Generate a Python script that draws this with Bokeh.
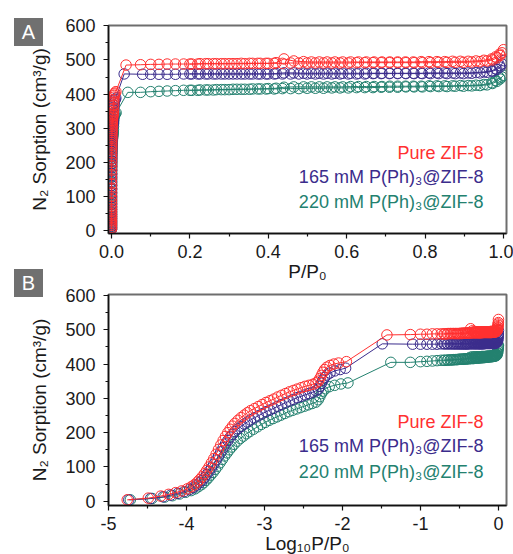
import numpy as np
from bokeh.plotting import figure
from bokeh.models import Label, Range1d, FixedTicker, Div
from bokeh.layouts import column
from bokeh.embed import file_html
from bokeh.resources import INLINE

FONT = "Liberation Sans"
RED = "#ff3030"
PURPLE = "#3b2c8c"
TEAL = "#23816f"

# ---------------- data ----------------
# low-pressure adsorption points, given as log10(P/P0)
red_low_logp = [-4.76, -4.49, -4.33, -4.23, -4.14, -4.06, -3.99, -3.94, -3.90, -3.86,
                -3.83, -3.80, -3.77, -3.74, -3.71, -3.68, -3.65, -3.62, -3.59, -3.56,
                -3.53, -3.50, -3.47, -3.44, -3.41, -3.38, -3.34, -3.30, -3.26, -3.22,
                -3.18, -3.13, -3.08, -3.03, -2.98, -2.93, -2.88, -2.83, -2.78, -2.73,
                -2.68, -2.63, -2.58, -2.53, -2.48, -2.43, -2.38, -2.34, -2.31, -2.29,
                -2.27, -2.25, -2.23, -2.20, -2.16, -2.11, -2.05, -1.95, -1.43, -1.13]
red_low_n = [4, 9, 15, 20, 25, 30, 36, 42, 48, 56,
             63, 71, 80, 90, 100, 112, 124, 137, 151, 164,
             177, 189, 200, 210, 219, 227, 236, 244, 251, 258,
             264, 270, 276, 282, 288, 293, 298, 304, 309, 314,
             319, 323, 327, 331, 335, 338, 341, 345, 350, 358,
             367, 376, 384, 391, 396, 400, 403, 407, 485, 486]

purple_low_logp = [-4.74, -4.46, -4.30, -4.20, -4.11, -4.03, -3.96, -3.91, -3.87, -3.83,
                   -3.80, -3.77, -3.74, -3.71, -3.68, -3.65, -3.62, -3.59, -3.56, -3.53,
                   -3.50, -3.47, -3.44, -3.41, -3.38, -3.34, -3.30, -3.26, -3.22, -3.18,
                   -3.13, -3.08, -3.03, -2.98, -2.93, -2.88, -2.83, -2.78, -2.73, -2.68,
                   -2.63, -2.58, -2.53, -2.48, -2.43, -2.38, -2.34, -2.31, -2.29, -2.27,
                   -2.25, -2.23, -2.20, -2.16, -2.10, -2.03, -1.96, -1.49, -1.10]
purple_low_n = [4, 8, 13, 18, 23, 28, 34, 40, 47, 54,
                61, 69, 78, 87, 97, 108, 120, 132, 144, 156,
                167, 177, 187, 195, 203, 211, 218, 225, 231, 237,
                243, 249, 255, 261, 266, 271, 277, 282, 287, 292,
                297, 302, 306, 310, 314, 318, 322, 327, 335, 344,
                353, 361, 368, 374, 380, 384, 388, 459, 458]

teal_low_logp = [-4.72, -4.44, -4.28, -4.18, -4.09, -4.01, -3.94, -3.89, -3.85, -3.81,
                 -3.78, -3.75, -3.72, -3.69, -3.66, -3.63, -3.60, -3.57, -3.54, -3.51,
                 -3.48, -3.45, -3.42, -3.39, -3.35, -3.31, -3.27, -3.23, -3.19, -3.14,
                 -3.09, -3.04, -2.99, -2.94, -2.89, -2.84, -2.79, -2.74, -2.69, -2.64,
                 -2.59, -2.54, -2.49, -2.44, -2.39, -2.34, -2.31, -2.29, -2.27, -2.25,
                 -2.22, -2.17, -2.10, -2.02, -1.93, -1.38, -1.13]
teal_low_n = [4, 8, 12, 16, 21, 26, 31, 36, 42, 48,
              54, 61, 68, 76, 84, 93, 102, 112, 122, 132,
              141, 150, 158, 166, 175, 183, 190, 197, 203, 210,
              217, 224, 230, 236, 241, 246, 251, 256, 261, 265,
              269, 273, 277, 281, 285, 289, 296, 305, 314, 321,
              328, 334, 338, 342, 345, 405, 405]

# plateau adsorption points, given as P/P0 (shared pressure steps)
plateau_p = [0.100, 0.121, 0.142, 0.163, 0.184, 0.205, 0.226, 0.247, 0.268, 0.289,
             0.310, 0.331, 0.352, 0.373, 0.394, 0.415, 0.436, 0.457, 0.478, 0.499,
             0.520, 0.541, 0.562, 0.583, 0.604, 0.625, 0.646, 0.667, 0.688, 0.709,
             0.730, 0.751, 0.772, 0.793, 0.814, 0.835, 0.856, 0.877, 0.898, 0.919,
             0.940, 0.958, 0.972, 0.983, 0.991, 0.996, 1.000]
red_plateau_n = [487, 487, 488, 488, 488, 488, 489, 489, 489, 489,
                 489, 490, 490, 490, 490, 490, 490, 491, 491, 491,
                 491, 491, 491, 491, 491, 492, 492, 492, 492, 492,
                 492, 492, 492, 492, 492, 493, 493, 493, 493, 494,
                 495, 497, 500, 506, 513, 521, 530]
purple_plateau_n = [458, 458, 458, 458, 459, 459, 459, 459, 459, 459,
                    459, 459, 459, 459, 459, 459, 459, 459, 459, 459,
                    459, 459, 459, 459, 459, 459, 459, 460, 460, 460,
                    460, 460, 460, 460, 460, 460, 460, 460, 460, 461,
                    462, 464, 467, 472, 479, 488, 498]
teal_plateau_n = [407, 408, 409, 410, 411, 411, 412, 412, 413, 413,
                  414, 414, 414, 415, 415, 415, 416, 416, 416, 417,
                  417, 417, 418, 418, 418, 419, 419, 419, 420, 420,
                  420, 421, 421, 421, 422, 422, 422, 423, 423, 424,
                  425, 427, 431, 437, 444, 450, 455]

# desorption branch, P/P0 (shared) and uptake
des_p = [0.990, 0.980, 0.970, 0.950, 0.930, 0.910, 0.890, 0.870, 0.850, 0.830,
         0.810, 0.790, 0.770, 0.750, 0.730, 0.710, 0.690, 0.670, 0.650, 0.630,
         0.610, 0.590, 0.570, 0.550, 0.530, 0.510, 0.490, 0.465, 0.440, 0.420,
         0.400, 0.380, 0.360, 0.340, 0.320, 0.300, 0.280, 0.260, 0.240, 0.220,
         0.200]
red_des_n = [517, 509, 503, 499, 497, 496, 496, 496, 495, 495,
             495, 495, 494, 494, 494, 494, 494, 494, 494, 494,
             494, 494, 494, 494, 494, 494, 495, 497, 503, 492,
             490, 490, 490, 489, 489, 489, 489, 489, 489, 488,
             488]
purple_des_n = [484, 474, 468, 465, 463, 462, 462, 462, 462, 462,
                462, 461, 461, 461, 461, 461, 461, 461, 461, 461,
                461, 461, 461, 461, 461, 461, 461, 462, 462, 460,
                459, 459, 459, 459, 459, 459, 459, 459, 459, 459,
                459]
teal_des_n = [448, 440, 433, 428, 426, 425, 425, 424, 424, 424,
              424, 423, 423, 423, 423, 423, 422, 422, 422, 422,
              422, 421, 421, 421, 421, 421, 421, 421, 420, 417,
              416, 415, 415, 414, 414, 413, 413, 412, 412, 411,
              411]

legend_names = ["Pure ZIF-8", "165 mM P(Ph)\u2083@ZIF-8", "220 mM P(Ph)\u2083@ZIF-8"]

series = [
    (TEAL, teal_low_logp, teal_low_n, teal_plateau_n, teal_des_n),
    (PURPLE, purple_low_logp, purple_low_n, purple_plateau_n, purple_des_n),
    (RED, red_low_logp, red_low_n, red_plateau_n, red_des_n),
]

# ---------------- layout (canvas pixels) ----------------
W = 513
FL, FR = 108, 7
FW = W - FL - FR
H1, T1, B1 = 287, 25, 54
H2, T2, B2 = 270, 7, 52
FH1 = H1 - T1 - B1
FH2 = H2 - T2 - B2
X1 = (-0.00765, 1.00765)
Y1 = (-8.8, 601.0)
X2 = (-5.0, 0.103)
Y2 = (-12.5, 602.9)


def make_fig(h, top, bottom, xr, yr, xlabel):
    p = figure(width=W, height=h, output_backend="svg", toolbar_location=None,
               x_range=Range1d(*xr), y_range=Range1d(*yr),
               min_border_left=FL, min_border_right=FR,
               min_border_top=top, min_border_bottom=bottom)
    p.xgrid.visible = False
    p.ygrid.visible = False
    p.outline_line_color = "#6e6e6e"
    p.outline_line_width = 2
    p.background_fill_color = "white"
    p.border_fill_color = "white"
    for ax in (p.xaxis[0], p.yaxis[0]):
        ax.axis_line_color = "#111111"
        ax.axis_line_width = 1.5
        ax.major_tick_line_color = "#111111"
        ax.minor_tick_line_color = "#111111"
        ax.major_tick_line_width = 1.2
        ax.minor_tick_line_width = 1.2
        ax.major_tick_in = 0
        ax.major_tick_out = 5
        ax.minor_tick_in = 0
        ax.minor_tick_out = 3
        ax.major_label_text_font = FONT
        ax.major_label_text_font_size = "18px"
        ax.major_label_text_color = "#1a1a1a"
        ax.axis_label_text_font = FONT
        ax.axis_label_text_font_size = "19px"
        ax.axis_label_text_font_style = "normal"
        ax.axis_label_text_color = "#1a1a1a"
    p.yaxis[0].ticker = FixedTicker(ticks=[0, 100, 200, 300, 400, 500, 600],
                                    minor_ticks=[50, 150, 250, 350, 450, 550])
    p.yaxis[0].major_label_standoff = 8
    p.yaxis[0].axis_label = "N\u2082 Sorption (cm\u00b3/g)"
    p.yaxis[0].axis_label_standoff = 12
    p.xaxis[0].major_label_standoff = 6
    p.xaxis[0].axis_label = xlabel
    p.xaxis[0].axis_label_standoff = 0
    return p


def legend_label(p, top, fh, xr, yr, px, py, text, color):
    dx = xr[0] + (px - FL) / FW * (xr[1] - xr[0])
    dy = yr[1] - (py - top) / fh * (yr[1] - yr[0])
    p.add_layout(Label(x=dx, y=dy, text=text, text_color=color, text_font=FONT,
                       text_font_size="18px", text_align="right",
                       text_baseline="middle"))


# ---------------- panel A ----------------
p1 = make_fig(H1, T1, B1, X1, Y1, "P/P\u2080")
p1.xaxis[0].ticker = FixedTicker(ticks=[0.0, 0.2, 0.4, 0.6, 0.8, 1.0],
                                 minor_ticks=[0.1, 0.3, 0.5, 0.7, 0.9])
p1.xaxis[0].major_label_overrides = {0.0: "0.0", 0.2: "0.2", 0.4: "0.4",
                                     0.6: "0.6", 0.8: "0.8", 1.0: "1.0"}

# ---------------- panel B ----------------
p2 = make_fig(H2, T2, B2, X2, Y2, "Log\u2081\u2080P/P\u2080")
p2.xaxis[0].ticker = FixedTicker(ticks=[-5, -4, -3, -2, -1, 0],
                                 minor_ticks=[-4.5, -3.5, -2.5, -1.5, -0.5])
p2.xaxis[0].major_label_overrides = {-5: "-5", -4: "-4", -3: "-3", -2: "-2",
                                     -1: "-1", 0: "0"}

for color, low_logp, low_n, plat_n, des_n in series:
    ads_p = [10.0 ** v for v in low_logp] + plateau_p
    ads_n = low_n + plat_n
    ads_log = [float(np.log10(v)) for v in ads_p]
    des_log = [float(np.log10(v)) for v in des_p]
    for p, xa, xd in ((p1, ads_p, des_p), (p2, ads_log, des_log)):
        p.line(xa, ads_n, line_color=color, line_width=1)
        p.line(xd, des_n, line_color=color, line_width=1)
        p.scatter(xa, ads_n, marker="circle", size=10.5, fill_color=None,
                  line_color=color, line_width=1)
        p.scatter(xd, des_n, marker="circle", size=10.5, fill_color=None,
                  line_color=color, line_width=1)

legend_colors = [RED, PURPLE, TEAL]
for name, col, py in zip(legend_names, legend_colors, [152, 176, 201]):
    legend_label(p1, T1, FH1, X1, Y1, 483, py, name, col)
for name, col, py in zip(legend_names, legend_colors, [421, 445, 471]):
    legend_label(p2, H1 + T2, FH2, X2, Y2, 483, py, name, col)


def panel_tag(letter, left, top):
    return Div(text=letter, width=29, height=28,
               styles={"position": "absolute", "left": f"{left}px", "top": f"{top}px",
                       "background-color": "#707070", "color": "#ffffff",
                       "font-family": FONT, "font-size": "20px",
                       "line-height": "28px", "text-align": "center",
                       "z-index": "10"})


tag_a = panel_tag("A", 9, 13)
tag_b = panel_tag("B", 9, 264)

layout = column(p1, p2, tag_a, tag_b, spacing=0)
open("out.html", "w").write(file_html(layout, INLINE))
